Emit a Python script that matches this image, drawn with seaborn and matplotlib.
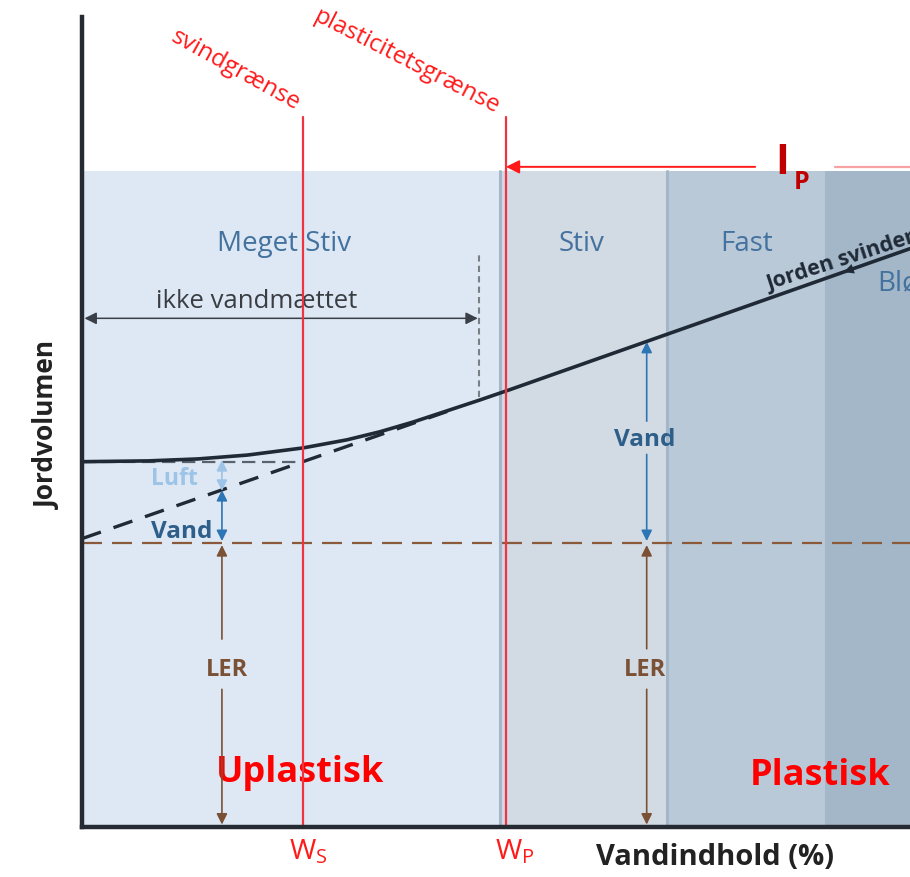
import matplotlib
matplotlib.use("Agg")
import matplotlib.pyplot as plt
import seaborn as sns

# ---- data (diagram units: water content 0-100, soil volume 0-100) ----
water = [0, 8, 14, 20, 26.7, 32, 36, 40, 44, 48, 51.7, 100]
volume = [45.1, 45.2, 45.44, 45.92, 46.8, 47.8, 48.8, 50.0, 51.35, 52.7, 54.0, 71.4]
sat_water = [0, 45.5]
sat_volume = [35.6, 51.8]
air_water = [0, 26.7]
air_volume = [45.1, 45.1]
clay_volume = 35.1
zone_edges = [0, 50.5, 70.7, 89.7, 100]
zone_names = ["Meget Stiv", "Stiv", "Fast", "Blød"]
zone_top = 81.0
w_s = 26.7
w_p = 51.2

zone_colors = ["#dde8f4", "#d2dae3", "#bac9d8", "#a4b7c9"]

sns.set_theme(style="white")
plt.rcParams['font.family'] = ['Open Sans', 'DejaVu Sans']

fig = plt.figure(figsize=(9.1, 8.78), dpi=100)
ax = fig.add_axes([82 / 910, 50 / 878, 828 / 910, 810 / 878])
ax.set_xlim(0, 100)
ax.set_ylim(0, 100)
ax.set_xticks([])
ax.set_yticks([])
for s in ["top", "right"]:
    ax.spines[s].set_visible(False)
for s in ["left", "bottom"]:
    ax.spines[s].set_linewidth(3.2)
    ax.spines[s].set_color("#262b33")
    ax.spines[s].set_zorder(10)

# zones
for i in range(4):
    ax.fill_between([zone_edges[i], zone_edges[i + 1]], 0, zone_top,
                    color=zone_colors[i], lw=0, zorder=0)
for xb in zone_edges[1:3]:
    ax.plot([xb, xb], [0, zone_top], color="#a3b6ca", lw=2.2, zorder=1)

# zone labels
blue_txt = "#44729e"
ax.text(24.4, 72.1, zone_names[0], color=blue_txt, fontsize=20, ha="center", va="center")
ax.text(60.3, 72.1, zone_names[1], color=blue_txt, fontsize=20, ha="center", va="center")
ax.text(80.3, 72.1, zone_names[2], color=blue_txt, fontsize=20, ha="center", va="center")
ax.text(96.1, 67.3, zone_names[3], color=blue_txt, fontsize=20, ha="left", va="center",
        clip_on=False)

# curves
sns.lineplot(x=water, y=volume, ax=ax, color="#1f2a36", lw=2.6, sort=False, zorder=5)
sns.lineplot(x=sat_water, y=sat_volume, ax=ax, color="#1f2a36", lw=2.4,
             linestyle=(0, (6, 4)), zorder=5)
sns.lineplot(x=air_water, y=air_volume, ax=ax, color="#59626d", lw=1.6,
             linestyle=(0, (6, 3)), zorder=4)
sns.lineplot(x=[0, 100], y=[clay_volume, clay_volume], ax=ax, color="#8a5a3a", lw=1.6,
             linestyle=(0, (9, 4.5)), zorder=4)

# red limits
for xv in [w_s, w_p]:
    ax.plot([xv, xv], [0, 87.6], color="#ef3340", lw=1.6, zorder=6, clip_on=False)

# Ip arrow
ax.annotate("", xy=(w_p, 81.5), xytext=(81.3, 81.5), annotation_clip=False,
            arrowprops=dict(arrowstyle="-|>", color="#ff1a1a", lw=1.4,
                            mutation_scale=20, shrinkA=0, shrinkB=0), zorder=7)
ax.plot([90.9, 100], [81.5, 81.5], color="#f7a3a3", lw=1.6, clip_on=False, zorder=7)
ax.text(84.6, 82.0, "I", color="#c00000", fontsize=30, fontweight="bold",
        ha="center", va="center", clip_on=False)
ax.text(86.9, 79.7, "P", color="#c00000", fontsize=18, fontweight="bold",
        ha="center", va="center", clip_on=False)

# limit labels
ax.text(18.6, 93.5, "svindgrænse", color="#ff1a1a", fontsize=17.5, rotation=-29,
        ha="center", va="center", rotation_mode="anchor", clip_on=False)
ax.text(39.2, 94.6, "plasticitetsgrænse", color="#ff1a1a", fontsize=17.5, rotation=-27,
        ha="center", va="center", rotation_mode="anchor", clip_on=False)

# ikke vandmættet
ax.annotate("", xy=(0.3, 62.8), xytext=(47.8, 62.8),
            arrowprops=dict(arrowstyle="<|-|>", color="#3b4048", lw=1.1,
                            mutation_scale=18, shrinkA=0, shrinkB=0))
ax.text(21.1, 65.0, "ikke vandmættet", color="#3a3d42", fontsize=18.5,
        ha="center", va="center")
ax.plot([47.9, 47.9], [53.1, 70.7], color="#7a7f86", lw=1.5, linestyle=(0, (3, 2)))

# left arrows (x=16.9)
xa = 16.9
ax.annotate("", xy=(xa, 45.3), xytext=(xa, 41.5),
            arrowprops=dict(arrowstyle="<|-|>", color="#9dc3e6", lw=1.2,
                            mutation_scale=16, shrinkA=0, shrinkB=0), zorder=6)
ax.annotate("", xy=(xa, 41.6), xytext=(xa, 35.3),
            arrowprops=dict(arrowstyle="<|-|>", color="#2e75b6", lw=1.2,
                            mutation_scale=16, shrinkA=0, shrinkB=0), zorder=6)
ax.text(11.2, 43.1, "Luft", color="#9dc3e6", fontsize=16.5, fontweight="bold",
        ha="center", va="center")
ax.text(12.0, 36.6, "Vand", color="#2e5f8a", fontsize=17.5, fontweight="bold",
        ha="center", va="center")
ax.annotate("", xy=(xa, 34.8), xytext=(xa, 23.2),
            arrowprops=dict(arrowstyle="-|>", color="#7b5136", lw=1.2,
                            mutation_scale=16, shrinkA=0, shrinkB=0), zorder=6)
ax.annotate("", xy=(xa, 0.3), xytext=(xa, 17.0),
            arrowprops=dict(arrowstyle="-|>", color="#7b5136", lw=1.2,
                            mutation_scale=16, shrinkA=0, shrinkB=0), zorder=6)
ax.text(17.5, 19.5, "LER", color="#7b5136", fontsize=17, fontweight="bold",
        ha="center", va="center")

# right arrows (x=68.2)
xb = 68.2
ax.annotate("", xy=(xb, 59.9), xytext=(xb, 50.1),
            arrowprops=dict(arrowstyle="-|>", color="#2e75b6", lw=1.2,
                            mutation_scale=16, shrinkA=0, shrinkB=0), zorder=6)
ax.annotate("", xy=(xb, 35.3), xytext=(xb, 46.0),
            arrowprops=dict(arrowstyle="-|>", color="#2e75b6", lw=1.2,
                            mutation_scale=16, shrinkA=0, shrinkB=0), zorder=6)
ax.text(68.0, 47.9, "Vand", color="#2e5f8a", fontsize=17.5, fontweight="bold",
        ha="center", va="center")
ax.annotate("", xy=(xb, 34.8), xytext=(xb, 22.0),
            arrowprops=dict(arrowstyle="-|>", color="#7b5136", lw=1.2,
                            mutation_scale=16, shrinkA=0, shrinkB=0), zorder=6)
ax.annotate("", xy=(xb, 0.3), xytext=(xb, 17.0),
            arrowprops=dict(arrowstyle="-|>", color="#7b5136", lw=1.2,
                            mutation_scale=16, shrinkA=0, shrinkB=0), zorder=6)
ax.text(68.0, 19.5, "LER", color="#7b5136", fontsize=17, fontweight="bold",
        ha="center", va="center")

# Jorden svinder
ax.annotate("", xy=(92.0, 54.0 + 0.36 * 40.3), xytext=(95.0, 54.0 + 0.36 * 43.3),
            arrowprops=dict(arrowstyle="-|>", color="#1f2a36", lw=0,
                            mutation_scale=18, shrinkA=0, shrinkB=0), zorder=6)
ax.text(83.0, 66.4, "Jorden svinder", color="#1f2a36", fontsize=15.5, fontweight="bold",
        rotation=18, ha="left", va="baseline", rotation_mode="anchor", clip_on=False)

# big labels
ax.text(26.3, 6.8, "Uplastisk", color="#ff0000", fontsize=26, fontweight="bold",
        ha="center", va="center")
ax.text(89.1, 6.4, "Plastisk", color="#ff0000", fontsize=26, fontweight="bold",
        ha="center", va="center", clip_on=False)

# axis labels
ax.text(27.3, -3.0, r"W$_\mathregular{S}$", color="#ff1a1a", fontsize=20.5,
        ha="center", va="center", clip_on=False)
ax.text(52.3, -3.0, r"W$_\mathregular{P}$", color="#ff1a1a", fontsize=20.5,
        ha="center", va="center", clip_on=False)
ax.text(76.5, -3.6, "Vandindhold (%)", color="#222222", fontsize=21, fontweight="bold",
        ha="center", va="center", clip_on=False)
ax.text(-4.2, 49.8, "Jordvolumen", color="#222222", fontsize=19, fontweight="bold",
        rotation=90, ha="center", va="center", clip_on=False)

fig.savefig("out.png", dpi=100)
